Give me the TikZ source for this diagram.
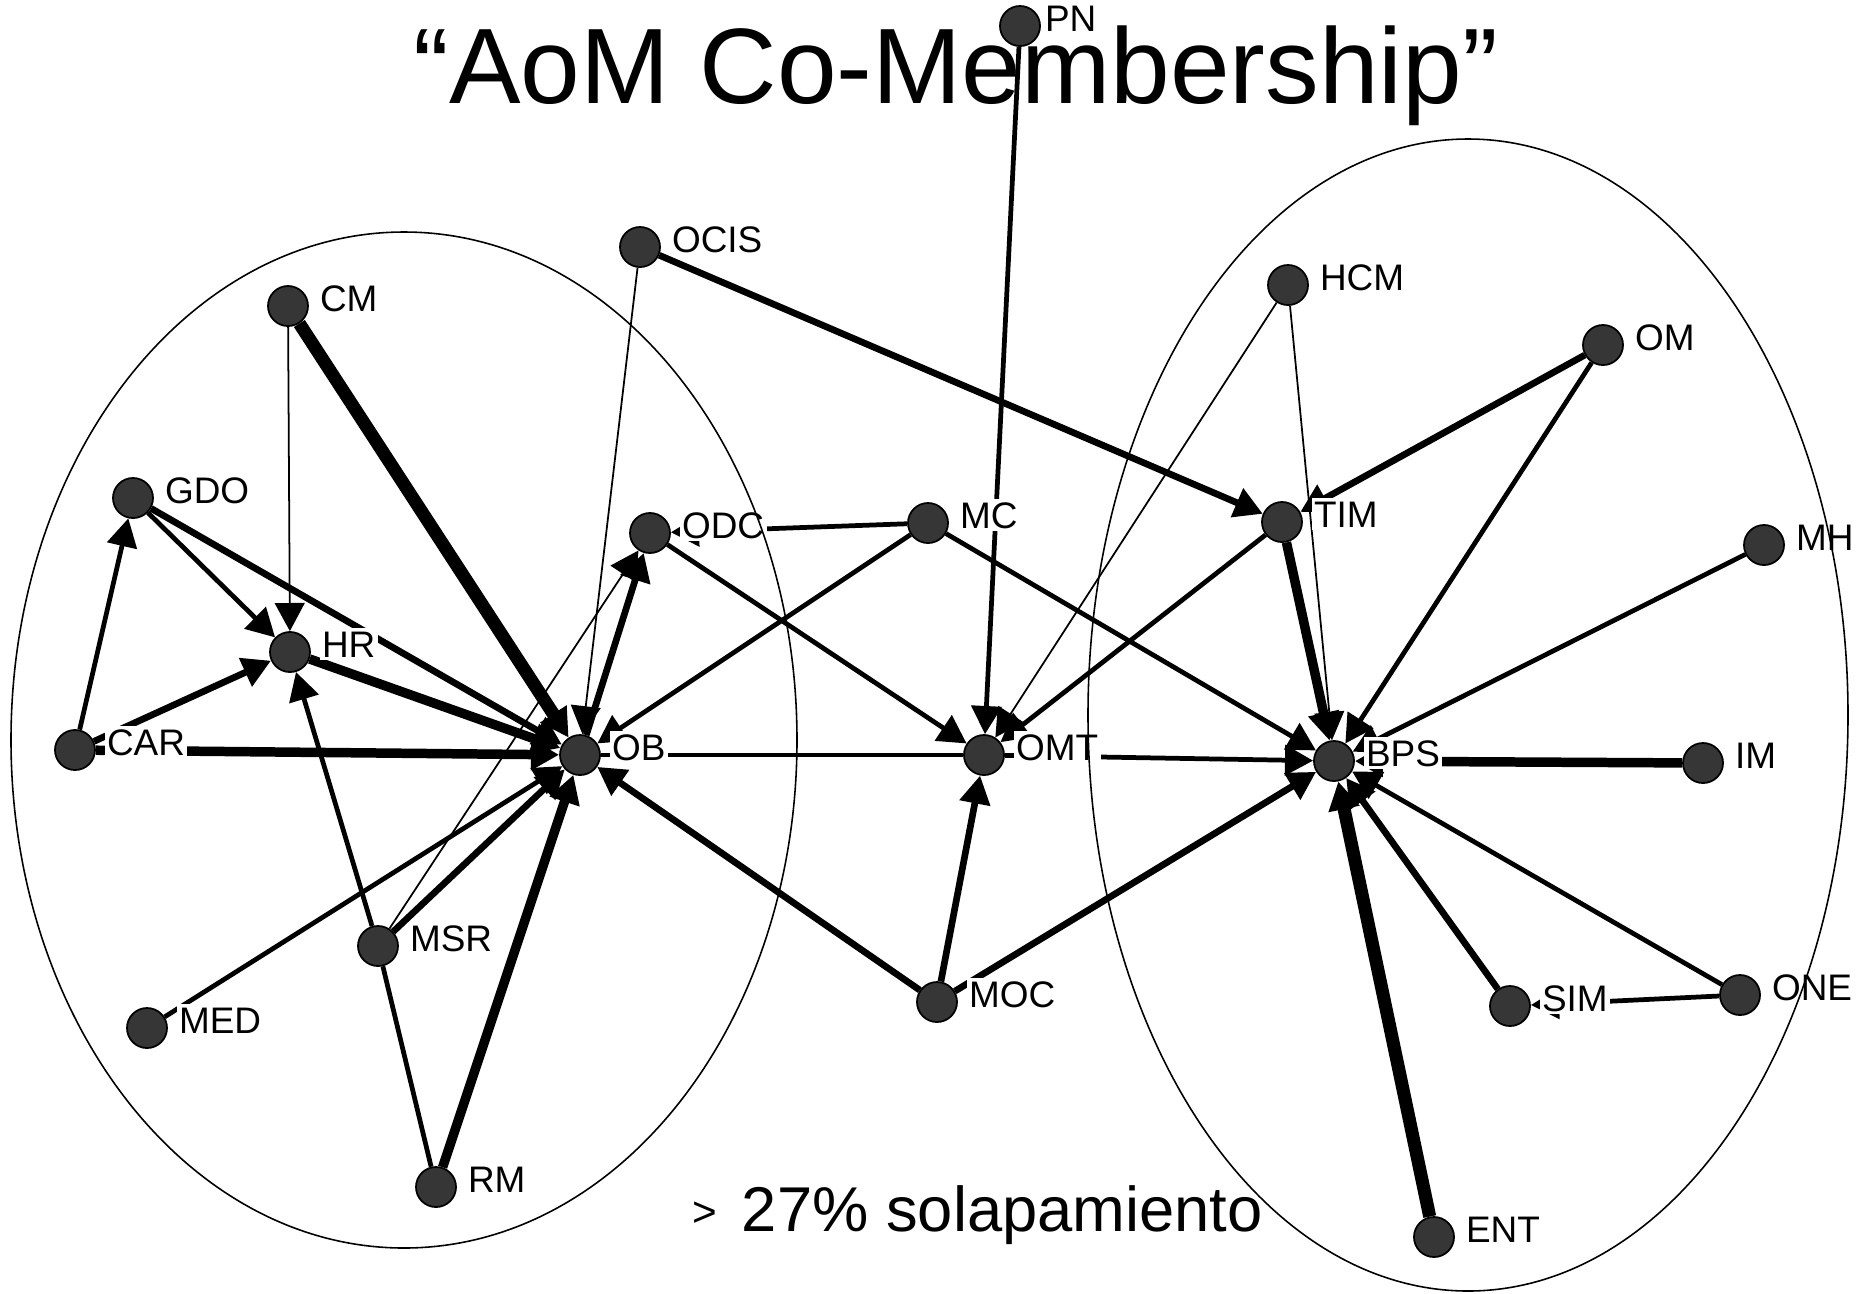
\documentclass[tikz,border=0pt]{standalone}
\usepackage{fontspec}
\setmainfont{Liberation Sans}
\usetikzlibrary{positioning}
\usetikzlibrary{arrows.meta}
\definecolor{actorgray}{HTML}{363636}
\pgfdeclarelayer{back}
\pgfsetlayers{back,main}
\tikzset{actor/.style={circle, draw=black, line width=0.5pt, fill=actorgray, minimum size=0.4cm, inner sep=0pt}}
\tikzset{tag/.style={fill=white, inner sep=0.7pt, text height=7.6pt, text depth=0pt, font=\fontsize{10.5}{12}\selectfont}}
\tikzset{w1/.style={line width=0.5pt}, w2/.style={line width=1.35pt}, w3/.style={line width=1.9pt},
         w4/.style={line width=2.7pt}, w5/.style={line width=3.7pt}}
\tikzset{ring/.style={line width=0.45pt}}
\tikzset{>={Triangle[length=8pt, width=8.5pt]}}

\begin{document}
\begin{tikzpicture}[x=0.01cm, y=-0.01cm]
    \useasboundingbox (0,0) rectangle (1860,1293);
    \node[actor] (PN) at (1020,26) {};
    \node[actor] (OCIS) at (640,247) {};
    \node[actor] (CM) at (288,306) {};
    \node[actor] (HCM) at (1288,285) {};
    \node[actor] (OM) at (1603,345) {};
    \node[actor] (GDO) at (133,498) {};
    \node[actor] (ODC) at (650,533) {};
    \node[actor] (MC) at (928,523) {};
    \node[actor] (TIM) at (1282,522) {};
    \node[actor] (MH) at (1764,545) {};
    \node[actor] (HR) at (290,652) {};
    \node[actor] (CAR) at (75,750) {};
    \node[actor] (OB) at (580,755) {};
    \node[actor] (OMT) at (984,755) {};
    \node[actor] (BPS) at (1334,761) {};
    \node[actor] (IM) at (1703,763) {};
    \node[actor] (MSR) at (378,946) {};
    \node[actor] (MED) at (147,1028) {};
    \node[actor] (MOC) at (937,1002) {};
    \node[actor] (SIM) at (1510,1006) {};
    \node[actor] (ONE) at (1740,995) {};
    \node[actor] (RM) at (436,1187) {};
    \node[actor] (ENT) at (1434,1237) {};

    \begin{pgfonlayer}{back}
        \node[anchor=base, font=\fontsize{30.5}{34}\selectfont] (title) at (956,103) {“AoM Co-Membership”};
        \draw[w1, ->] (CM) -- (HR);
        \draw[w5, ->] (CM) -- (OB);
        \draw[w2, ->] (GDO) -- (HR);
        \draw[w3, ->] (GDO) -- (OB);
        \draw[w2, ->] (CAR) -- (GDO);
        \draw[w3, ->] (CAR) -- (HR);
        \draw[w4, ->] (CAR) -- (OB);
        \draw[w4, ->] (HR) -- (OB);
        \draw[w2, ->] (MSR) -- (HR);
        \draw[w2] (RM) -- (MSR);
        \draw[w4, ->] (RM) -- (OB);
        \draw[w3, ->] (MSR) -- (OB);
        \draw[w1, ->] (MSR) -- (ODC);
        \draw[w2, ->] (MED) -- (OB);
        \draw[w3, ->] (MOC) -- (OB);
        \draw[w1, ->] (OCIS) -- (OB);
        \draw[w3, ->] (OB) -- (ODC);
        \draw[w2] (OB) -- (OMT);
        \draw[w2, ->] (ODC) -- (OMT);
        \draw[w2, ->] (MC) -- (ODC);
        \draw[w2, ->] (MC) -- (OB);
        \draw[w2, ->] (MC) -- (BPS);
        \draw[w2, ->] (PN) -- (OMT);
        \draw[w3, ->] (OCIS) -- (TIM);
        \draw[w1, ->] (HCM) -- (OMT);
        \draw[w1, ->] (HCM) -- (BPS);
        \draw[w2, ->] (TIM) -- (OMT);
        \draw[w4, ->] (TIM) -- (BPS);
        \draw[w3, ->] (OM) -- (TIM);
        \draw[w2, ->] (OM) -- (BPS);
        \draw[w2, ->] (MH) -- (BPS);
        \draw[w4, ->] (IM) -- (BPS);
        \draw[w2, ->] (OMT) -- (BPS);
        \draw[w3, ->] (MOC) -- (OMT);
        \draw[w3, ->] (MOC) -- (BPS);
        \draw[w5, ->] (ENT) -- (BPS);
        \draw[w3, ->] (SIM) -- (BPS);
        \draw[w2, ->] (ONE) -- (BPS);
        \draw[w2, ->] (ONE) -- (SIM);
    \end{pgfonlayer}

    \node[tag, right=0.01cm of PN, yshift=0.08cm] (tPN) {PN};
    \node[tag, right=0.08cm of OCIS, yshift=0.08cm] (tOCIS) {OCIS};
    \node[tag, right=0.08cm of CM, yshift=0.08cm] (tCM) {CM};
    \node[tag, right=0.08cm of HCM, yshift=0.08cm] (tHCM) {HCM};
    \node[tag, right=0.08cm of OM, yshift=0.08cm] (tOM) {OM};
    \node[tag, right=0.08cm of GDO, yshift=0.08cm] (tGDO) {GDO};
    \node[tag, right=0.08cm of ODC, yshift=0.08cm] (tODC) {ODC};
    \node[tag, right=0.08cm of MC, yshift=0.08cm] (tMC) {MC};
    \node[tag, right=0.08cm of TIM, yshift=0.08cm] (tTIM) {TIM};
    \node[tag, right=0.08cm of MH, yshift=0.08cm] (tMH) {MH};
    \node[tag, right=0.08cm of HR, yshift=0.08cm] (tHR) {HR};
    \node[tag, right=0.08cm of CAR, yshift=0.08cm] (tCAR) {CAR};
    \node[tag, right=0.08cm of OB, yshift=0.08cm] (tOB) {OB};
    \node[tag, right=0.08cm of OMT, yshift=0.08cm] (tOMT) {OMT};
    \node[tag, right=0.08cm of BPS, yshift=0.08cm] (tBPS) {BPS};
    \node[tag, right=0.08cm of IM, yshift=0.08cm] (tIM) {IM};
    \node[tag, right=0.08cm of MSR, yshift=0.08cm] (tMSR) {MSR};
    \node[tag, right=0.08cm of MED, yshift=0.08cm] (tMED) {MED};
    \node[tag, right=0.08cm of MOC, yshift=0.08cm] (tMOC) {MOC};
    \node[tag, right=0.08cm of SIM, yshift=0.08cm] (tSIM) {SIM};
    \node[tag, right=0.08cm of ONE, yshift=0.08cm] (tONE) {ONE};
    \node[tag, right=0.08cm of RM, yshift=0.08cm] (tRM) {RM};
    \node[tag, right=0.08cm of ENT, yshift=0.08cm] (tENT) {ENT};

    \node[anchor=base west, inner sep=0pt, font=\fontsize{18}{20}\selectfont] (note) at (692,1231)
        {{\fontsize{12}{12}\selectfont\raisebox{1.2pt}{>}}\hspace{7pt}27\% solapamiento};

    \draw[ring] (404,740) ellipse [x radius=393, y radius=508];
    \draw[ring] (1468,715) ellipse [x radius=380, y radius=576];
\end{tikzpicture}
\end{document}
